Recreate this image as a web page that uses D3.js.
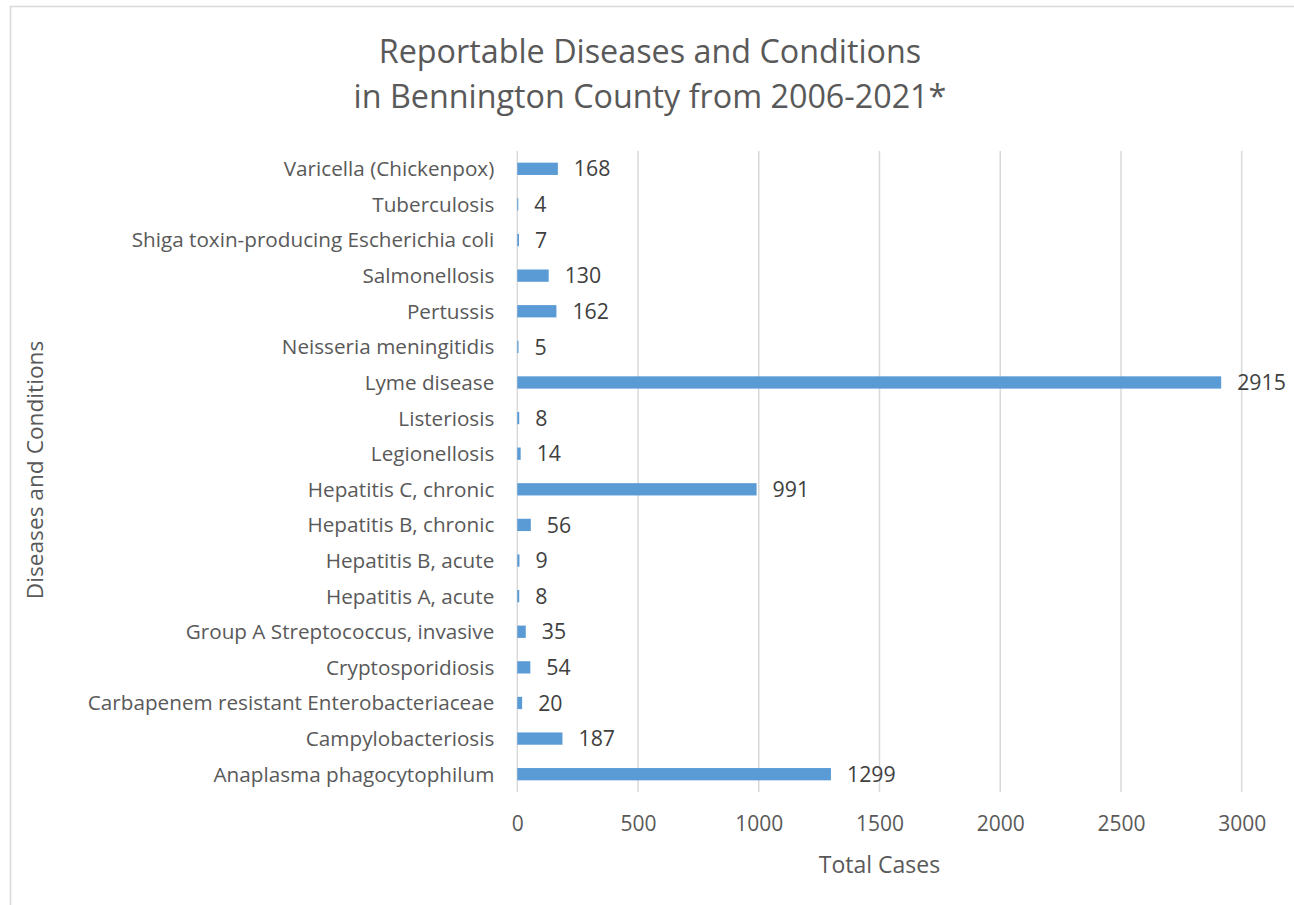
<!DOCTYPE html>
<html>
<head>
<meta charset="utf-8">
<script src="https://cdn.jsdelivr.net/npm/d3@7"></script>
<style>
  html, body { margin: 0; padding: 0; background: #fff; }
  svg { display: block; }
  text { font-family: "Open Sans", "Noto Sans", sans-serif; fill: #595959; }
</style>
</head>
<body>
<svg id="chart" width="1294" height="905"></svg>
<script>
const categories = [
  "Varicella (Chickenpox)",
  "Tuberculosis",
  "Shiga toxin-producing Escherichia coli",
  "Salmonellosis",
  "Pertussis",
  "Neisseria meningitidis",
  "Lyme disease",
  "Listeriosis",
  "Legionellosis",
  "Hepatitis C, chronic",
  "Hepatitis B, chronic",
  "Hepatitis B, acute",
  "Hepatitis A, acute",
  "Group A Streptococcus, invasive",
  "Cryptosporidiosis",
  "Carbapenem resistant Enterobacteriaceae",
  "Campylobacteriosis",
  "Anaplasma phagocytophilum"
];
const totalCases = [168, 4, 7, 130, 162, 5, 2915, 8, 14, 991, 56, 9, 8, 35, 54, 20, 187, 1299];
const xTicks = [0, 500, 1000, 1500, 2000, 2500, 3000];
const titleLines = ["Reportable Diseases and Conditions", "in Bennington County from 2006-2021*"];
const xAxisTitle = "Total Cases";
const yAxisTitle = "Diseases and Conditions";

const svg = d3.select("#chart");
const W = 1294, H = 905;
const plot = { left: 517.3, right: 1241.7, top: 151, bottom: 792 };

// chart border
svg.append("rect")
  .attr("x", 10.5).attr("y", 6.5)
  .attr("width", W + 20).attr("height", H + 20)
  .attr("fill", "#fff").attr("stroke", "#D9D9D9").attr("stroke-width", 1.5);

const x = d3.scaleLinear().domain([0, 3000]).range([plot.left, plot.right]);
const y = d3.scaleBand().domain(categories).range([plot.top, plot.bottom]).paddingInner(0.655).paddingOuter(0.3275);

// gridlines
svg.append("g").selectAll("line").data(xTicks).join("line")
  .attr("x1", d => x(d)).attr("x2", d => x(d))
  .attr("y1", plot.top).attr("y2", plot.bottom)
  .attr("stroke", "#D9D9D9").attr("stroke-width", 1.5);

// bars
svg.append("g").selectAll("rect").data(totalCases).join("rect")
  .attr("x", x(0))
  .attr("y", (d, i) => y(categories[i]))
  .attr("width", d => x(d) - x(0))
  .attr("height", y.bandwidth())
  .attr("fill", "#5B9BD5");

// value labels
svg.append("g").selectAll("text").data(totalCases).join("text")
  .attr("x", d => x(d) + 16)
  .attr("y", (d, i) => y(categories[i]) + y.bandwidth() / 2)
  .attr("dy", "0.36em")
  .attr("font-size", 21.3)
  .style("fill", "#404040")
  .text(d => d);

// category axis labels
const yAxis = d3.axisLeft(y).tickSize(0).tickPadding(23);
const gy = svg.append("g").attr("transform", `translate(${plot.left},0)`).call(yAxis);
gy.select(".domain").remove();
gy.selectAll("text").attr("font-size", 20.7).style("font-family", "'Open Sans', sans-serif").style("fill", "#595959").attr("dy", "0.36em");

// x axis tick labels
const xAxis = d3.axisBottom(x).tickValues(xTicks).tickSize(0).tickPadding(0).tickFormat(d3.format("d"));
const gx = svg.append("g").attr("transform", `translate(0,${plot.bottom + 31})`).call(xAxis);
gx.select(".domain").remove();
gx.selectAll("text").attr("font-size", 21).attr("dy", "0.36em").style("font-family", "'Open Sans', sans-serif").style("fill", "#595959");

// axis titles
svg.append("text")
  .attr("x", (plot.left + plot.right) / 2).attr("y", 865)
  .attr("text-anchor", "middle").attr("dy", "0.36em")
  .attr("font-size", 23)
  .text(xAxisTitle);

svg.append("text")
  .attr("transform", "translate(35,470) rotate(-90)")
  .attr("text-anchor", "middle").attr("dy", "0.36em")
  .attr("font-size", 22.7)
  .text(yAxisTitle);

// title
svg.append("g").selectAll("text").data(titleLines).join("text")
  .attr("x", 650).attr("y", (d, i) => 63 + i * 45)
  .attr("text-anchor", "middle")
  .attr("font-size", 32.3)
  .text(d => d);
</script>
</body>
</html>
